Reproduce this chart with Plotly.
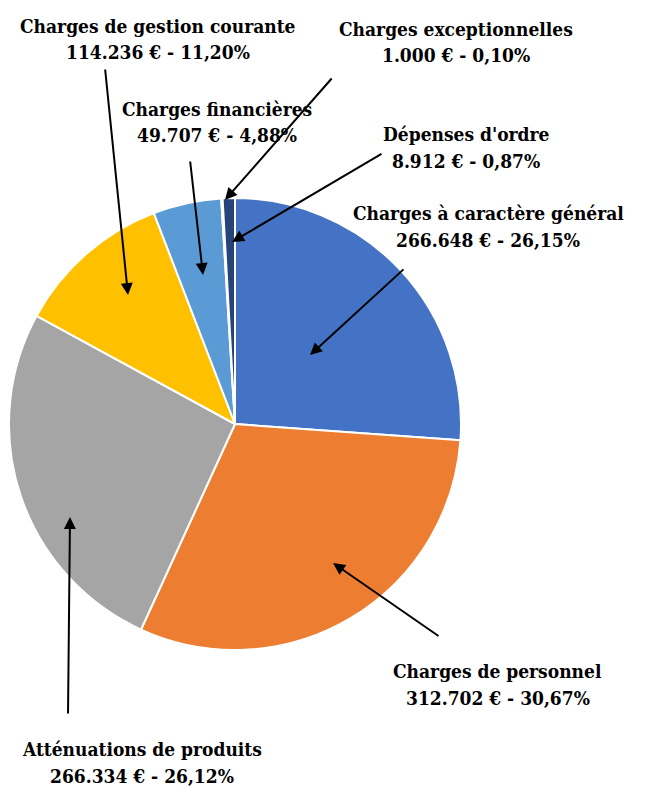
import plotly.graph_objects as go

# Data
categories = ["Charges à caractère général", "Charges de personnel", "Atténuations de produits",
              "Charges de gestion courante", "Charges financières", "Charges exceptionnelles",
              "Dépenses d'ordre"]
amounts = [266648, 312702, 266334, 114236, 49707, 1000, 8912]
amount_labels = ["266.648 €", "312.702 €", "266.334 €", "114.236 €", "49.707 €", "1.000 €", "8.912 €"]
percent_labels = ["26,15%", "30,67%", "26,12%", "11,20%", "4,88%", "0,10%", "0,87%"]

colors = ["#4472C4", "#ED7D31", "#A5A5A5", "#FFC000", "#5B9BD5", "#70AD47", "#264478"]

OFF = 8  # page body margin
W, H = 651 - OFF, 786 - OFF
# label text centre and arrow tail/tip, in page pixels
label_pos = [(488, 227), (498, 684), (142, 762), (158, 39), (217, 122), (456, 42), (466, 147)]
arrow_tail = [(405, 268), (440, 637), (68, 715), (105, 68), (190, 160), (333, 77), (383, 153)]
arrow_tip = [(310, 355), (333, 563), (70, 517), (128, 295), (203, 275), (225, 200), (232, 242)]
LINE_GAP = 27

cx, cy, r = 235, 424, 226


def px(x):
    return (x - OFF) / W


def py(y):
    return 1 - (y - OFF) / H


fig = go.Figure(go.Pie(
    labels=categories, values=amounts, sort=False, direction="clockwise", rotation=0,
    marker=dict(colors=colors, line=dict(color="white", width=2)),
    textinfo="none", hoverinfo="label+value+percent", showlegend=False,
    domain=dict(x=[px(cx - r), px(cx + r)], y=[py(cy + r), py(cy - r)]),
))

font = dict(family="DejaVu Serif Condensed", size=19, color="black")
annotations = []
for i, cat in enumerate(categories):
    lx, ly = label_pos[i]
    for j, line in enumerate([cat, f"{amount_labels[i]} - {percent_labels[i]}"]):
        annotations.append(dict(
            x=px(lx), y=py(ly + (j - 0.5) * LINE_GAP), xref="paper", yref="paper", showarrow=False,
            text=f"<b>{line}</b>", font=font, align="center", xanchor="center", yanchor="middle",
        ))
    tx, ty = arrow_tip[i]
    sx, sy = arrow_tail[i]
    annotations.append(dict(
        x=px(tx), y=py(ty), xref="paper", yref="paper", showarrow=True,
        ax=sx - tx, ay=sy - ty, axref="pixel", ayref="pixel", text="",
        arrowhead=2, arrowsize=1.2, arrowwidth=2, arrowcolor="black", standoff=0, startstandoff=0,
    ))

fig.update_layout(
    width=W, height=H, margin=dict(l=0, r=0, t=0, b=0),
    paper_bgcolor="white", plot_bgcolor="white",
    annotations=annotations,
)
fig.write_html("out.html")
